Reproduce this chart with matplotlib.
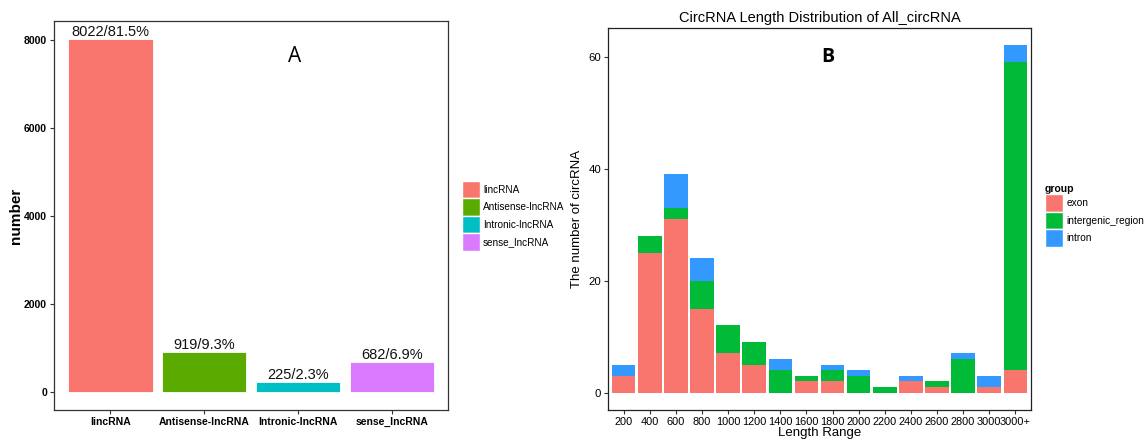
import matplotlib
matplotlib.use("Agg")
import matplotlib.pyplot as plt
from matplotlib.patches import Patch
import numpy as np

plt.rcParams['font.family'] = ['Liberation Sans', 'DejaVu Sans']

# ---- Panel A data ----
a_categories = ["lincRNA", "Antisense-lncRNA", "Intronic-lncRNA", "sense_lncRNA"]
a_values = [8022, 919, 225, 682]
a_labels = ["8022/81.5%", "919/9.3%", "225/2.3%", "682/6.9%"]
a_colors = ["#F8766D", "#5BAA00", "#00BFC4", "#D97AFF"]
a_yticks = [0, 2000, 4000, 6000, 8000]

# ---- Panel B data ----
b_categories = ["200", "400", "600", "800", "1000", "1200", "1400", "1600", "1800",
                "2000", "2200", "2400", "2600", "2800", "3000", "3000+"]
b_exon = [3, 25, 31, 15, 7, 5, 0, 2, 2, 0, 0, 2, 1, 0, 1, 4]
b_intergenic = [0, 3, 2, 5, 5, 4, 4, 1, 2, 3, 1, 0, 1, 6, 0, 55]
b_intron = [2, 0, 6, 4, 0, 0, 2, 0, 1, 1, 0, 1, 0, 1, 2, 3]
b_groups = ["exon", "intergenic_region", "intron"]
b_colors = ["#F8766D", "#00BA38", "#3399FF"]
b_yticks = [0, 20, 40, 60]

W, H = 1145, 442
fig = plt.figure(figsize=(W / 100, H / 100), dpi=100)

def box(l, t, r, b):
    return [l / W, 1 - b / H, (r - l) / W, (b - t) / H]

# ---------- Panel A ----------
axA = fig.add_axes(box(54, 21, 448, 410))
xa = np.arange(1, len(a_categories) + 1)
axA.bar(xa, a_values, width=0.9, color=a_colors, edgecolor="white", linewidth=0.6)
for x, v, lab in zip(xa, a_values, a_labels):
    axA.text(x, v, lab, ha="center", va="bottom", fontsize=10.5, color="#111111")
axA.set_xlim(0.4, 4.6)
axA.set_ylim(-401, 8423)
axA.set_xticks(xa)
axA.set_xticklabels(a_categories, fontsize=7.5, fontweight="bold")
axA.set_yticks(a_yticks)
axA.set_yticklabels([str(t) for t in a_yticks], fontsize=7.5, fontweight="bold")
axA.set_ylabel("number", fontsize=11, fontweight="bold", labelpad=1)
for s in axA.spines.values():
    s.set_color("#333333")
    s.set_linewidth(0.9)
axA.tick_params(length=3, color="#333333", pad=2)
axA.text(2.97, 7620, "A", fontsize=15, ha="center", va="center", family="Open Sans")
axA.legend(handles=[Patch(facecolor=c, edgecolor="white", label=l) for c, l in zip(a_colors, a_categories)],
           loc="upper left", bbox_to_anchor=((462 - 54) / 394, 1 - (181 - 21) / 389),
           frameon=False, fontsize=7.2, handlelength=1.75, handleheight=2.3,
           handletextpad=0.35, labelspacing=0.0, borderaxespad=0, borderpad=0)

# ---------- Panel B ----------
axB = fig.add_axes(box(608, 28, 1031, 410))
xb = np.arange(1, len(b_categories) + 1)
bottom = np.zeros(len(xb))
for vals, c, g in zip([b_exon, b_intergenic, b_intron], b_colors, b_groups):
    axB.bar(xb, vals, bottom=bottom, width=0.9, color=c, edgecolor="none", label=g)
    bottom += np.array(vals)
axB.set_xlim(0.4, 16.6)
axB.set_ylim(-3.1, 65.1)
axB.set_xticks(xb)
axB.set_xticklabels(b_categories, fontsize=7.9)
axB.set_yticks(b_yticks)
axB.set_yticklabels([str(t) for t in b_yticks], fontsize=8.2)
axB.set_xlabel("Length Range", fontsize=9.5, labelpad=0)
axB.set_ylabel("The number of circRNA", fontsize=9.5, labelpad=4)
axB.set_title("CircRNA Length Distribution of All_circRNA", fontsize=10.5, pad=4)
for s in axB.spines.values():
    s.set_color("#222222")
    s.set_linewidth(0.9)
axB.tick_params(length=3, color="#333333", pad=2)
axB.text(8.83, 60, "B", fontsize=14, fontweight="bold", ha="center", va="center", family="Open Sans")
leg = axB.legend(handles=[Patch(facecolor=c, edgecolor="white", label=l) for c, l in zip(b_colors, b_groups)],
                 title="group", loc="upper left",
                 bbox_to_anchor=((1045 - 608) / 423, 1 - (184 - 28) / 382),
                 frameon=False, fontsize=7.3, title_fontsize=7.5, handlelength=1.75, handleheight=2.3,
                 handletextpad=0.35, labelspacing=0.0, borderaxespad=0, borderpad=0)
leg.get_title().set_fontweight("bold")
leg._legend_box.align = "left"

fig.savefig("out.png", dpi=100)
